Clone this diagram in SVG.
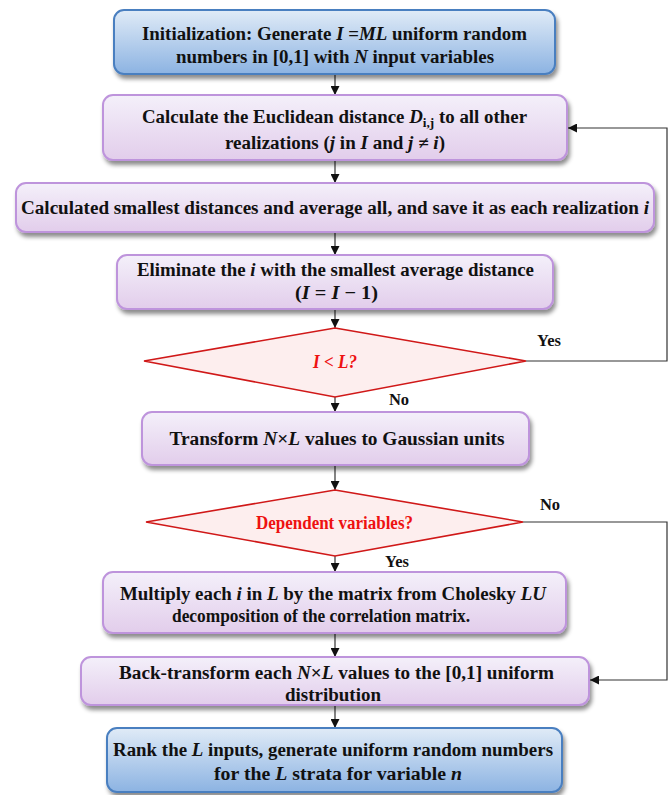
<svg xmlns="http://www.w3.org/2000/svg" width="672" height="795" viewBox="0 0 672 795">
  <defs>
    <linearGradient id="gPurple" x1="0" y1="0" x2="0" y2="1">
      <stop offset="0" stop-color="#f4f0fa"/>
      <stop offset="1" stop-color="#e2cdeb"/>
    </linearGradient>
    <linearGradient id="gBlue" x1="0" y1="0" x2="0" y2="1">
      <stop offset="0" stop-color="#e0ebf7"/>
      <stop offset="1" stop-color="#8cb3e2"/>
    </linearGradient>
    <filter id="shadow" x="-5%" y="-20%" width="112%" height="150%">
      <feDropShadow dx="2" dy="4" stdDeviation="2.2" flood-color="#000" flood-opacity="0.45"/>
    </filter>
    <marker id="arrow" viewBox="0 0 10 10" refX="10" refY="5" markerWidth="9" markerHeight="9" markerUnits="userSpaceOnUse" orient="auto">
      <path d="M0,0 L10,5 L0,10 z" fill="#111"/>
    </marker>
  </defs>
  <style>
    .pbox { fill: url(#gPurple); stroke: #be94dc; stroke-width: 2; filter: url(#shadow); }
    .bbox { fill: url(#gBlue); stroke: #4a7fc0; stroke-width: 2; filter: url(#shadow); }
    .dia { fill: #fdeeee; stroke: #d01818; stroke-width: 1.6; }
    .t { font-family: "Liberation Serif", "Times New Roman", serif; font-weight: bold; font-size: 18.5px; fill: #111; text-anchor: middle; }
    .red { fill: #ee1111; }
    .i { font-style: italic; }
    .lbl { font-family: "Liberation Serif", "Times New Roman", serif; font-weight: bold; font-size: 16.5px; fill: #111; text-anchor: middle; }
    .c { fill: none; stroke: #333; stroke-width: 1.2; }
  </style>

  <!-- connectors -->
  <g id="connectors">
    <line class="c" x1="335" y1="75" x2="335" y2="95" marker-end="url(#arrow)"/>
    <line class="c" x1="335" y1="161" x2="335" y2="183" marker-end="url(#arrow)"/>
    <line class="c" x1="335" y1="233" x2="335" y2="255" marker-end="url(#arrow)"/>
    <line class="c" x1="335" y1="310" x2="335" y2="328" marker-end="url(#arrow)"/>
    <line class="c" x1="335" y1="397" x2="335" y2="412" marker-end="url(#arrow)"/>
    <line class="c" x1="335" y1="466" x2="335" y2="490" marker-end="url(#arrow)"/>
    <line class="c" x1="335" y1="556" x2="335" y2="572" marker-end="url(#arrow)"/>
    <line class="c" x1="335" y1="634" x2="335" y2="657" marker-end="url(#arrow)"/>
    <line class="c" x1="335" y1="706" x2="335" y2="728" marker-end="url(#arrow)"/>
    <polyline class="c" points="526,361 667,361 667,128 568,128" marker-end="url(#arrow)"/>
    <polyline class="c" points="523,522 667,522 667,680 590,680" marker-end="url(#arrow)"/>
    <text class="lbl" x="549" y="346">Yes</text>
    <text class="lbl" x="399" y="405">No</text>
    <text class="lbl" x="550" y="510">No</text>
    <text class="lbl" x="397" y="567">Yes</text>
  </g>

  <g id="init">
    <rect class="bbox" x="114" y="10" width="441" height="64" rx="10"/>
    <text class="t" x="334.5" y="40" textLength="385" lengthAdjust="spacingAndGlyphs">Initialization: Generate <tspan class="i">I</tspan> =<tspan class="i">ML</tspan> uniform random</text>
    <text class="t" x="335" y="63" textLength="318" lengthAdjust="spacingAndGlyphs">numbers in [0,1] with <tspan class="i">N</tspan> input variables</text>
  </g>

  <g id="distance">
    <rect class="pbox" x="103" y="95" width="464" height="65" rx="10"/>
    <text class="t" x="334.5" y="123" textLength="385" lengthAdjust="spacingAndGlyphs">Calculate the Euclidean distance <tspan class="i">D</tspan><tspan font-size="13" dy="4">i,j</tspan><tspan dy="-4"> to all other</tspan></text>
    <text class="t" x="335" y="149" textLength="220" lengthAdjust="spacingAndGlyphs">realizations (<tspan class="i">j</tspan> in <tspan class="i">I</tspan> and <tspan class="i">j ≠ i</tspan>)</text>
  </g>

  <g id="average">
    <rect class="pbox" x="16" y="183" width="638" height="49" rx="10"/>
    <text class="t" x="335" y="214" textLength="628" lengthAdjust="spacingAndGlyphs">Calculated smallest distances and average all, and save it as each realization  <tspan class="i">i</tspan></text>
  </g>

  <g id="eliminate">
    <rect class="pbox" x="117" y="255" width="436" height="54" rx="10"/>
    <text class="t" x="335.5" y="276" textLength="397" lengthAdjust="spacingAndGlyphs">Eliminate the <tspan class="i">i</tspan> with the smallest average distance</text>
    <text class="t" x="336.5" y="299" textLength="83" lengthAdjust="spacingAndGlyphs">(<tspan class="i">I</tspan> = <tspan class="i">I</tspan> − 1)</text>
  </g>

  <g id="check-count">
    <polygon class="dia" points="335,328 526,361 335,397 144,361"/>
    <text class="t red i" x="335" y="368" textLength="44" lengthAdjust="spacingAndGlyphs">I &lt; L?</text>
  </g>

  <g id="gaussian">
    <rect class="pbox" x="142" y="412" width="387" height="53" rx="10"/>
    <text class="t" x="337" y="445" textLength="335" lengthAdjust="spacingAndGlyphs">Transform  <tspan class="i">N</tspan>×<tspan class="i">L</tspan> values to Gaussian units</text>
  </g>

  <g id="check-dependent">
    <polygon class="dia" points="335,490 523,522 335,556 146,522"/>
    <text class="t red" x="334.5" y="529" font-size="17" textLength="157" lengthAdjust="spacingAndGlyphs">Dependent variables?</text>
  </g>

  <g id="cholesky">
    <rect class="pbox" x="103" y="572" width="463" height="61" rx="10"/>
    <text class="t" x="333" y="600" textLength="426" lengthAdjust="spacingAndGlyphs">Multiply each <tspan class="i">i</tspan> in <tspan class="i">L</tspan> by the matrix from Cholesky  <tspan class="i">LU</tspan></text>
    <text class="t" x="321" y="622" textLength="298" lengthAdjust="spacingAndGlyphs">decomposition of the correlation matrix.</text>
  </g>

  <g id="back-transform">
    <rect class="pbox" x="81" y="657" width="508" height="48" rx="10"/>
    <text class="t" x="336.5" y="679" textLength="435" lengthAdjust="spacingAndGlyphs">Back-transform each <tspan class="i">N</tspan>×<tspan class="i">L</tspan> values to the [0,1] uniform</text>
    <text class="t" x="333" y="701" textLength="96" lengthAdjust="spacingAndGlyphs">distribution</text>
  </g>

  <g id="rank">
    <rect class="bbox" x="107" y="728" width="455" height="64" rx="10"/>
    <text class="t" x="333" y="756" textLength="440" lengthAdjust="spacingAndGlyphs">Rank the <tspan class="i">L</tspan> inputs, generate uniform random numbers</text>
    <text class="t" x="338" y="780" textLength="248" lengthAdjust="spacingAndGlyphs">for the <tspan class="i">L</tspan> strata for variable  <tspan class="i">n</tspan></text>
  </g>
</svg>
